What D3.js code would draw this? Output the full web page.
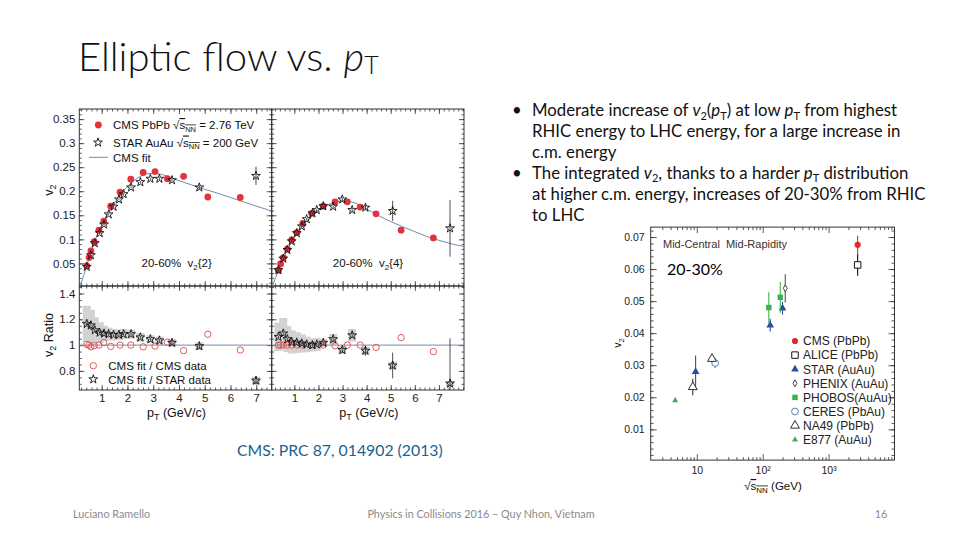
<!DOCTYPE html>
<html>
<head>
<meta charset="utf-8">
<script src="https://d3js.org/d3.v7.min.js"></script>
<style>
body { margin: 0; background: #fff; }
svg text { font-family: "Liberation Sans", Arial, sans-serif; white-space: pre; }
</style>
</head>
<body>
<svg id="slide" width="960" height="540"></svg>
<script>
// ---- CMS 20-60%, v2{2} panel ----
const ptCms2 = [0.42, 0.51, 0.58, 0.71, 0.89, 1.08, 1.35, 1.71, 2.13, 2.61, 3.07, 3.55, 4.18, 5.12, 6.38];
const v2Cms2 = [0.045, 0.062, 0.076, 0.095, 0.119, 0.138, 0.169, 0.198, 0.225, 0.239, 0.241, 0.226, 0.231, 0.188, 0.187];
const ptStar2 = [0.42, 0.58, 0.73, 0.92, 1.09, 1.27, 1.46, 1.67, 1.85, 2.14, 2.5, 2.89, 3.24, 3.73, 4.79, 6.99];
const v2Star2 = [0.043, 0.067, 0.092, 0.113, 0.131, 0.152, 0.168, 0.183, 0.194, 0.208, 0.219, 0.226, 0.226, 0.223, 0.208, 0.232];
const errStar2 = [0.002, 0.002, 0.002, 0.002, 0.002, 0.002, 0.002, 0.002, 0.002, 0.002, 0.002, 0.002, 0.003, 0.003, 0.004, 0.019];
const ptFit2 = [0.15, 0.3, 0.42, 0.6, 0.8, 1.0, 1.25, 1.5, 1.75, 2.0, 2.25, 2.5, 2.75, 3.0, 3.25, 3.5, 4.0, 4.5, 5.0, 5.5, 6.0, 6.5, 7.0, 7.6];
const v2Fit2 = [0.0, 0.025, 0.046, 0.077, 0.106, 0.13, 0.155, 0.176, 0.195, 0.21, 0.222, 0.231, 0.236, 0.237, 0.236, 0.232, 0.222, 0.213, 0.204, 0.196, 0.187, 0.178, 0.169, 0.159];
const ratioCms2 = [1.005, 1.0, 0.987, 0.995, 1.0, 1.02, 0.99, 1.0, 1.0, 0.987, 0.992, 1.023, 0.957, 1.084, 0.962];
const ratioStar2 = [1.165, 1.153, 1.115, 1.097, 1.09, 1.085, 1.08, 1.08, 1.085, 1.085, 1.06, 1.046, 1.036, 1.018, 0.992, 0.725];
const sysStar2 = [0.14, 0.12, 0.1, 0.08, 0.06, 0.05, 0.045, 0.04, 0.04, 0.035, 0.035, 0.03, 0.03, 0.03, 0.03, 0.03];
const errRatioStar2 = [0.01, 0.01, 0.01, 0.01, 0.01, 0.01, 0.01, 0.01, 0.01, 0.01, 0.01, 0.01, 0.01, 0.015, 0.02, 0.03];

// ---- CMS 20-60%, v2{4} panel ----
const ptCms4 = [0.34, 0.43, 0.54, 0.71, 0.89, 1.1, 1.35, 1.72, 2.2, 2.69, 3.2, 3.73, 4.39, 5.43, 6.77];
const v2Cms4 = [0.036, 0.049, 0.062, 0.08, 0.099, 0.114, 0.133, 0.154, 0.169, 0.178, 0.178, 0.167, 0.153, 0.119, 0.103];
const ptStar4 = [0.34, 0.54, 0.71, 0.89, 1.1, 1.31, 1.51, 1.75, 1.93, 2.2, 2.61, 2.99, 3.4, 3.95, 5.08, 7.46];
const v2Star4 = [0.036, 0.06, 0.078, 0.096, 0.113, 0.127, 0.142, 0.154, 0.161, 0.169, 0.168, 0.183, 0.161, 0.166, 0.159, 0.123];
const errStar4 = [0.002, 0.002, 0.002, 0.002, 0.002, 0.002, 0.002, 0.002, 0.002, 0.002, 0.003, 0.003, 0.004, 0.005, 0.021, 0.059];
const ptFit4 = [0.06, 0.3, 0.5, 0.75, 1.0, 1.25, 1.5, 1.75, 2.0, 2.5, 3.0, 3.5, 4.0, 4.5, 5.0, 5.5, 6.0, 6.5, 7.0, 7.5, 8.04];
const v2Fit4 = [0.0, 0.03, 0.055, 0.083, 0.104, 0.122, 0.137, 0.15, 0.161, 0.174, 0.18, 0.176, 0.163, 0.149, 0.137, 0.126, 0.116, 0.106, 0.098, 0.091, 0.085];
const ratioCms4 = [1.0, 1.0, 1.0, 1.0, 1.0, 1.0, 1.0, 1.0, 1.0, 0.995, 1.0, 1.0, 0.982, 1.058, 0.95];
const ratioStar4 = [1.064, 1.09, 1.046, 1.025, 1.02, 1.013, 1.005, 1.0, 1.005, 1.018, 1.046, 0.962, 1.076, 0.957, 0.842, 0.702];
const sysStar4 = [0.11, 0.12, 0.1, 0.09, 0.08, 0.07, 0.06, 0.05, 0.05, 0.03, 0.04, 0.03, 0.05, 0.03, 0.03, 0.02];
const errRatioStar4 = [0.01, 0.01, 0.01, 0.01, 0.01, 0.01, 0.01, 0.01, 0.01, 0.01, 0.015, 0.02, 0.02, 0.04, 0.1, 0.35];

// ---- integrated v2 vs sqrt(sNN), mid-central ----
const expNames = ["CMS (PbPb)", "ALICE (PbPb)", "STAR (AuAu)", "PHENIX (AuAu)", "PHOBOS(AuAu)", "CERES (PbAu)", "NA49 (PbPb)", "E877 (AuAu)"];
const expSqrtS = [[2760], [2760], [9.6, 130, 200], [220], [124, 185], [19], [8.7, 17], [4.7]];
const expV2 = [[0.0676], [0.0613], [0.028, 0.0425, 0.0478], [0.054], [0.048, 0.0512], [0.0307], [0.0232, 0.032], [0.019]];
const expErr = [[0.0028], [0.0034], [0.005, 0.002, 0.002], [0.0044], [0.0048, 0.0048], [0.0016], [0.0026, 0.0008], [0.0004]];

const bullets = [
    ["Moderate increase of ", { t: "v", i: true }, { t: "2", sub: true }, "(", { t: "p", i: true }, { t: "T", sub: true }, ") at low ", { t: "p", i: true }, { t: "T", sub: true }, " from highest"],
    ["RHIC energy to LHC energy, for a large increase in"],
    ["c.m. energy"],
    ["The integrated ", { t: "v", i: true }, { t: "2", sub: true }, ", thanks to a harder ", { t: "p", i: true }, { t: "T", sub: true }, " distribution"],
    ["at higher c.m. energy, increases of 20-30% from RHIC"],
    ["to LHC"]
];

const svg = d3.select("#slide");
svg.append("rect").attr("width", 960).attr("height", 540).attr("fill", "#fff");

// Append text pieces with italic / subscript / overline parts.
function rich(text, parts, subSize, subShift) {
    let shift = 0;
    parts.forEach(p => {
        const s = typeof p === "string" ? { t: p } : p;
        const ts = text.append("tspan").text(s.t);
        const want = s.sub ? subShift : 0;
        if (want !== shift) { ts.attr("dy", want - shift); shift = want; }
        if (s.i) ts.attr("font-style", "italic");
        if (s.sub) ts.attr("font-size", subSize);
        if (s.over) ts.style("text-decoration", "overline");
    });
    return text;
}

// Title
rich(svg.append("text").attr("x", 78).attr("y", 71)
    .style("font-family", "Lato").attr("font-weight", 300).attr("font-size", 40).attr("fill", "#111"),
    ["Elliptic flow vs. ", { t: "p", i: true }, { t: "T", sub: true }], 25, 3);

// Bullets
bullets.forEach((line, i) => {
    const y = 116 + i * 20.9;
    if (i === 0 || i === 3) {
        svg.append("text").attr("x", 512).attr("y", y).style("font-family", "Lato")
            .attr("font-size", 16.8).attr("fill", "#111").text("\u2022");
    }
    rich(svg.append("text").attr("x", 532).attr("y", y).style("font-family", "Lato")
        .attr("font-size", 16.8).attr("fill", "#111"), line, 11, 3.5);
});

// Frame with inward ticks on all four sides.
function frame(g, x, y, o) {
    const [x0, x1] = x.range();
    const [y0, y1] = y.range();
    const sides = [
        [d3.axisBottom, x, `translate(0,${y0})`, o.xLabels, o.xMajor, o.xMinor, o.xFmt],
        [d3.axisTop, x, `translate(0,${y1})`, false, o.xMajor, o.xMinor, o.xFmt],
        [d3.axisLeft, y, `translate(${x0},0)`, o.yLabels, o.yMajor, o.yMinor, o.yFmt],
        [d3.axisRight, y, `translate(${x1},0)`, false, o.yMajor, o.yMinor, o.yFmt]
    ];
    sides.forEach(([axisFn, sc, tr, labels, major, minor, fmt]) => {
        g.append("g").attr("transform", tr)
            .call(axisFn(sc).tickValues(minor).tickSize(-o.minorLen).tickFormat(""))
            .call(a => a.select(".domain").remove());
        const ax = g.append("g").attr("transform", tr)
            .call(axisFn(sc).tickValues(major).tickSize(-o.majorLen).tickPadding(o.pad).tickFormat(labels ? fmt : ""))
            .call(a => a.select(".domain").remove());
        ax.attr("font-family", null).attr("font-size", o.fontSize);
        ax.selectAll("text").attr("fill", "#222");
    });
    g.selectAll(".tick line").attr("stroke", "#333").attr("stroke-width", 0.8);
    g.append("rect").attr("x", x0).attr("y", y1).attr("width", x1 - x0).attr("height", y0 - y1)
        .attr("fill", "none").attr("stroke", "#333").attr("stroke-width", 1);
}

let clipId = 0;
function clipped(g, x, y) {
    const id = `clip${clipId++}`;
    const [x0, x1] = x.range();
    const [y0, y1] = y.range();
    g.append("clipPath").attr("id", id).append("rect")
        .attr("x", x0).attr("y", y1).attr("width", x1 - x0).attr("height", y0 - y1);
    return g.append("g").attr("clip-path", `url(#${id})`);
}

const numFmt = d => String(+d.toFixed(2));
const fitColor = "#6f8db0";
const cmsRed = "#e2323d";
const star = d3.symbol(d3.symbolStar, 24);

// ---- left figure: v2(pT) from CMS ----
const cms = svg.append("g");
const xL = d3.scaleLinear().domain([0.13, 7.6]).range([79.3, 271.7]);
const xR = d3.scaleLinear().domain([0.06, 8.04]).range([271.7, 464]);
const yV2 = d3.scaleLinear().domain([0.003, 0.371]).range([286, 109]);
const yRat = d3.scaleLinear().domain([0.652, 1.458]).range([390, 286]);

const panels = [
    { x: xL, ptC: ptCms2, vC: v2Cms2, ptS: ptStar2, vS: v2Star2, eS: errStar2, ptF: ptFit2, vF: v2Fit2,
      rC: ratioCms2, rS: ratioStar2, sS: sysStar2, erS: errRatioStar2, ylab: true, tag: "2", tagX: 176.7 },
    { x: xR, ptC: ptCms4, vC: v2Cms4, ptS: ptStar4, vS: v2Star4, eS: errStar4, ptF: ptFit4, vF: v2Fit4,
      rC: ratioCms4, rS: ratioStar4, sS: sysStar4, erS: errRatioStar4, ylab: false, tag: "4", tagX: 368 }
];

panels.forEach(p => {
    const x = p.x;
    const common = {
        xMajor: d3.range(1, 8), xMinor: d3.range(0.2, x.domain()[1], 0.2), xFmt: d3.format("d"),
        majorLen: 5, minorLen: 2.5, pad: 4, fontSize: 11.5
    };
    // top: v2 vs pT
    frame(cms.append("g"), x, yV2, Object.assign({}, common, {
        yMajor: d3.range(0.05, 0.36, 0.05), yMinor: d3.range(0.01, 0.371, 0.01), yFmt: numFmt,
        xLabels: false, yLabels: p.ylab
    }));
    const top = clipped(cms, x, yV2);
    top.append("path")
        .datum(p.ptF.map((pt, i) => [pt, p.vF[i]]))
        .attr("d", d3.line().x(d => x(d[0])).y(d => yV2(d[1])).curve(d3.curveMonotoneX))
        .attr("fill", "none").attr("stroke", fitColor).attr("stroke-width", 1);
    top.selectAll(".cms").data(p.ptC).join("circle")
        .attr("cx", d => x(d)).attr("cy", (d, i) => yV2(p.vC[i])).attr("r", 3.4).attr("fill", cmsRed);
    top.selectAll(".err").data(p.ptS).join("line")
        .attr("x1", d => x(d)).attr("x2", d => x(d))
        .attr("y1", (d, i) => yV2(p.vS[i] - p.eS[i])).attr("y2", (d, i) => yV2(p.vS[i] + p.eS[i]))
        .attr("stroke", "#222").attr("stroke-width", 0.8);
    top.selectAll(".star").data(p.ptS).join("path")
        .attr("d", star).attr("transform", (d, i) => `translate(${x(d)},${yV2(p.vS[i])})`)
        .attr("fill", "none").attr("stroke", "#111").attr("stroke-width", 0.9);
    rich(cms.append("text").attr("x", p.tagX).attr("y", 267).attr("text-anchor", "middle")
        .attr("font-size", 11.5).attr("fill", "#111"),
        ["20-60%  ", { t: "v" }, { t: "2", sub: true }, `{${p.tag}}`], 8, 2.5);

    // bottom: ratio
    frame(cms.append("g"), x, yRat, Object.assign({}, common, {
        yMajor: [0.8, 1.0, 1.2, 1.4], yMinor: d3.range(0.7, 1.46, 0.05), yFmt: numFmt,
        xLabels: true, yLabels: p.ylab
    }));
    const bot = clipped(cms, x, yRat);
    bot.selectAll(".sys").data(p.ptS).join("rect")
        .attr("x", d => x(d) - 4).attr("width", 8)
        .attr("y", (d, i) => yRat(p.rS[i] + p.sS[i]))
        .attr("height", (d, i) => yRat(p.rS[i] - p.sS[i]) - yRat(p.rS[i] + p.sS[i]))
        .attr("fill", "#d2d2d2");
    bot.append("line").attr("x1", x.range()[0]).attr("x2", x.range()[1])
        .attr("y1", yRat(1)).attr("y2", yRat(1)).attr("stroke", fitColor).attr("stroke-width", 1);
    bot.selectAll(".rc").data(p.ptC).join("circle")
        .attr("cx", d => x(d)).attr("cy", (d, i) => yRat(p.rC[i])).attr("r", 3.2)
        .attr("fill", "none").attr("stroke", "#e05a5a").attr("stroke-width", 1);
    bot.selectAll(".er").data(p.ptS).join("line")
        .attr("x1", d => x(d)).attr("x2", d => x(d))
        .attr("y1", (d, i) => yRat(p.rS[i] - p.erS[i])).attr("y2", (d, i) => yRat(p.rS[i] + p.erS[i]))
        .attr("stroke", "#222").attr("stroke-width", 0.8);
    bot.selectAll(".rs").data(p.ptS).join("path")
        .attr("d", star).attr("transform", (d, i) => `translate(${x(d)},${yRat(p.rS[i])})`)
        .attr("fill", "none").attr("stroke", "#111").attr("stroke-width", 0.9);

    rich(cms.append("text").attr("x", (x.range()[0] + x.range()[1]) / 2 + 1).attr("y", 417)
        .attr("text-anchor", "middle").attr("font-size", 12.5).attr("fill", "#111"),
        ["p", { t: "T", sub: true }, " (GeV/c)"], 9, 3);
});

// axis titles on the left
rich(cms.append("text").attr("transform", "translate(53,190) rotate(-90)").attr("text-anchor", "middle")
    .attr("font-size", 12.5).attr("fill", "#111"), ["v", { t: "2", sub: true }], 9, 3);
rich(cms.append("text").attr("transform", "translate(53,335) rotate(-90)").attr("text-anchor", "middle")
    .attr("font-size", 12.5).attr("fill", "#111"), ["v", { t: "2", sub: true }, " Ratio"], 9, 3);

// legends of the CMS figure
cms.append("circle").attr("cx", 98.3).attr("cy", 125).attr("r", 3.4).attr("fill", cmsRed);
rich(cms.append("text").attr("x", 113).attr("y", 129).attr("font-size", 11.5).attr("fill", "#111"),
    ["CMS PbPb \u221A", { t: "s", over: true }, { t: "NN", sub: true, over: true }, " = 2.76 TeV"], 7.5, 2.5);
cms.append("path").attr("d", star).attr("transform", "translate(98,142.5)")
    .attr("fill", "none").attr("stroke", "#111").attr("stroke-width", 0.9);
rich(cms.append("text").attr("x", 113).attr("y", 146.5).attr("font-size", 11.5).attr("fill", "#111"),
    ["STAR AuAu \u221A", { t: "s", over: true }, { t: "NN", sub: true, over: true }, " = 200 GeV"], 7.5, 2.5);
cms.append("line").attr("x1", 89).attr("x2", 108).attr("y1", 157.3).attr("y2", 157.3)
    .attr("stroke", fitColor).attr("stroke-width", 1);
cms.append("text").attr("x", 113).attr("y", 161.5).attr("font-size", 11.5).attr("fill", "#111").text("CMS fit");

cms.append("circle").attr("cx", 93.3).attr("cy", 365.7).attr("r", 3.2)
    .attr("fill", "none").attr("stroke", "#e05a5a").attr("stroke-width", 1);
cms.append("text").attr("x", 108.3).attr("y", 370).attr("font-size", 11.5).attr("fill", "#111").text("CMS fit / CMS data");
cms.append("path").attr("d", star).attr("transform", "translate(93.3,379.3)")
    .attr("fill", "none").attr("stroke", "#111").attr("stroke-width", 0.9);
cms.append("text").attr("x", 108.3).attr("y", 384).attr("font-size", 11.5).attr("fill", "#111").text("CMS fit / STAR data");

// ---- right figure: integrated v2 vs collision energy ----
const en = svg.append("g");
const xE = d3.scaleLog().domain([2, 10000]).range([650.7, 894.5]);
const yE = d3.scaleLinear().domain([0.0004, 0.0731]).range([460.1, 227.1]);
const decadeLabel = { 10: "10", 100: "10\u00B2", 1000: "10\u00B3" };
frame(en.append("g"), xE, yE, {
    xMajor: [10, 100, 1000],
    xMinor: [3, 4, 5, 6, 7, 8, 9, 20, 30, 40, 50, 60, 70, 80, 90, 200, 300, 400, 500, 600, 700, 800, 900,
        2000, 3000, 4000, 5000, 6000, 7000, 8000, 9000],
    xFmt: d => decadeLabel[d],
    yMajor: d3.range(0.01, 0.071, 0.01), yMinor: d3.range(0.002, 0.073, 0.002), yFmt: numFmt,
    xLabels: true, yLabels: true, majorLen: 6, minorLen: 3, pad: 6, fontSize: 10.5
});

const expStyle = {
    "CMS (PbPb)": { shape: d3.symbolCircle, size: 30, fill: "#e3262b", stroke: "none", err: "#e3262b" },
    "ALICE (PbPb)": { shape: d3.symbolSquare, size: 42, fill: "#fff", stroke: "#111", err: "#111" },
    "STAR (AuAu)": { shape: d3.symbolTriangle, size: 26, fill: "#2c4ea0", stroke: "none", err: "#2c4ea0" },
    "PHENIX (AuAu)": { shape: d3.symbolDiamond, size: 14, fill: "#fff", stroke: "#444", err: "#555" },
    "PHOBOS(AuAu)": { shape: d3.symbolSquare, size: 30, fill: "#3bb34a", stroke: "none", err: "#3bb34a" },
    "CERES (PbAu)": { shape: d3.symbolCircle, size: 36, fill: "#fff", stroke: "#5f7fae", err: "#5f7fae" },
    "NA49 (PbPb)": { shape: d3.symbolTriangle, size: 34, fill: "#fff", stroke: "#333", err: "#333" },
    "E877 (AuAu)": { shape: d3.symbolTriangle2, size: 26, fill: "#3aae5c", stroke: "none", err: "#3aae5c" }
};

expNames.forEach((name, k) => {
    const st = expStyle[name];
    const pts = expSqrtS[k].map((s, i) => ({ s, v: expV2[k][i], e: expErr[k][i] }));
    en.selectAll(null).data(pts).join("line")
        .attr("x1", d => xE(d.s)).attr("x2", d => xE(d.s))
        .attr("y1", d => yE(d.v - d.e)).attr("y2", d => yE(d.v + d.e))
        .attr("stroke", st.err).attr("stroke-width", 1.1);
    const sym = d3.symbol(st.shape, st.size);
    const mark = (sel) => sel.attr("d", sym).attr("fill", st.fill)
        .attr("stroke", st.stroke).attr("stroke-width", 1);
    en.selectAll(null).data(pts).join("path")
        .attr("transform", d => `translate(${xE(d.s)},${yE(d.v)})`)
        .call(mark);
    // legend entry
    const ly = 341 + k * 14.1;
    en.append("path").attr("transform", `translate(795,${ly})`).call(mark);
    en.append("text").attr("x", 803).attr("y", ly + 4.3).attr("font-size", 12)
        .attr("fill", "#222").text(name);
});

en.append("text").attr("x", 663).attr("y", 248).attr("font-size", 11).attr("fill", "#3b302a")
    .text("Mid-Central\u00A0\u00A0Mid-Rapidity");
rich(en.append("text").attr("transform", "translate(621,343) rotate(-90)").attr("text-anchor", "middle")
    .attr("font-size", 10.5).attr("fill", "#111"), ["v", { t: "2", sub: true }], 7.5, 2.5);
rich(en.append("text").attr("x", 773).attr("y", 490).attr("text-anchor", "middle")
    .attr("font-size", 11.5).attr("fill", "#111"),
    ["\u221A", { t: "s", over: true }, { t: "NN", sub: true, over: true }, " (GeV)"], 8, 2.5);
svg.append("text").attr("x", 667).attr("y", 275).style("font-family", "Lato")
    .attr("font-size", 16).attr("fill", "#000").text("20-30%");

// ---- reference and footer ----
svg.append("text").attr("x", 237).attr("y", 456).style("font-family", "Lato")
    .attr("font-size", 15.8).attr("fill", "#20628f").text("CMS: PRC 87, 014902 (2013)");
const footer = [[73, "start", "Luciano Ramello"], [481, "middle", "Physics in Collisions 2016 \u2013 Quy Nhon, Vietnam"], [881, "middle", "16"]];
footer.forEach(([x, anchor, t]) => {
    svg.append("text").attr("x", x).attr("y", 518).attr("text-anchor", anchor).style("font-family", "Lato")
        .attr("font-size", 10.8).attr("fill", "#8a8a8a").text(t);
});
</script>
</body>
</html>
